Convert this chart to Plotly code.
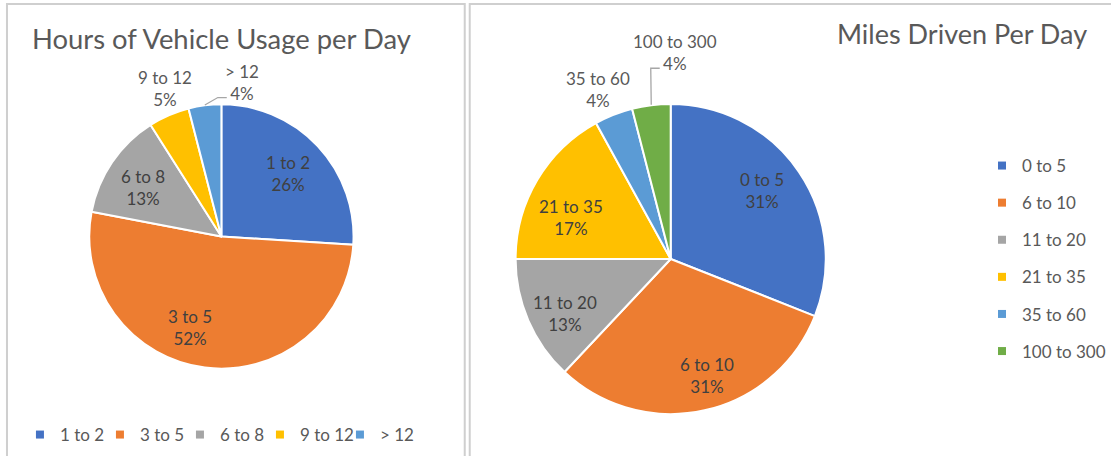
import math
import plotly.graph_objects as go

hours_labels = ["1 to 2", "3 to 5", "6 to 8", "9 to 12", "> 12"]
hours_values = [26, 52, 13, 5, 4]
hours_colors = ["#4472C4", "#ED7D31", "#A5A5A5", "#FFC000", "#5B9BD5"]

miles_labels = ["0 to 5", "6 to 10", "11 to 20", "21 to 35", "35 to 60", "100 to 300"]
miles_values = [31, 31, 13, 17, 4, 4]
miles_colors = ["#4472C4", "#ED7D31", "#A5A5A5", "#FFC000", "#5B9BD5", "#70AD47"]

W, H = 1111, 456
FONT = "Lato, Carlito, Calibri, sans-serif"
TXT_IN = "#404040"
TXT_OUT = "#595959"
LBL_SIZE = 17

PIES = [
    dict(labels=hours_labels, values=hours_values, colors=hours_colors,
         cx=222, cy=236.5, r=132.5, inside_f=0.69, legend="legend",
         nudge={1: (-20, 0), 2: (-3, 2)},
         outside={3: (-4, -26, False), 4: (37, -23, True)}),
    dict(labels=miles_labels, values=miles_values, colors=miles_colors,
         cx=672.5, cy=259, r=155.5, inside_f=0.74, legend="legend2",
         nudge={0: (-4, -4), 1: (11, 4), 2: (0, 9), 3: (-1, 17)},
         outside={4: (-16, -25, False), 5: (23.5, -52, True)}),
]


def px2paper(x, y):
    return x / W, 1 - y / H


fig = go.Figure()
annotations = []
shapes = []

for p in PIES:
    cx, cy, r = p["cx"], p["cy"], p["r"]
    x0, y1 = px2paper(cx - r, cy - r)
    x1, y0 = px2paper(cx + r, cy + r)
    fig.add_trace(go.Pie(
        labels=p["labels"], values=p["values"],
        marker=dict(colors=p["colors"], line=dict(color="white", width=2)),
        sort=False, direction="clockwise", rotation=0,
        textinfo="none", showlegend=False,
        domain=dict(x=[x0, x1], y=[y0, y1]),
        hoverinfo="label+percent",
    ))
    for i, (lab, col) in enumerate(zip(p["labels"], p["colors"])):
        fig.add_trace(go.Scatter(
            x=[None], y=[None], mode="markers", name=lab,
            marker=dict(symbol="square", size=8, color=col),
            legend=p["legend"], legendgroup=f"{p['legend']}_{i}",
            showlegend=True, hoverinfo="skip",
        ))
    total = sum(p["values"])
    cum = 0
    for i, (lab, v) in enumerate(zip(p["labels"], p["values"])):
        th = 2 * math.pi * (cum + v / 2) / total
        cum += v
        pct = round(100 * v / total)
        txt = f"{lab}<br>{pct}%"
        sx, sy = math.sin(th), -math.cos(th)
        if i in p["outside"]:
            dx, dy, leader = p["outside"][i]
            ax, ay = cx + r * sx, cy + r * sy
            lx, ly = ax + dx, ay + dy
            color = TXT_OUT
            if leader:
                ex, ey = lx - 15, ly + 15.5
                bx, by = ex - 9, ey
                pts = [px2paper(ax, ay), px2paper(bx, by), px2paper(ex, ey)]
                path = "M {} {} L {} {} L {} {}".format(*[c for pt in pts for c in pt])
                shapes.append(dict(type="path", xref="paper", yref="paper", path=path,
                                   line=dict(color="#A6A6A6", width=1.3)))
        else:
            f = p["inside_f"]
            ndx, ndy = p["nudge"].get(i, (0, 0))
            lx, ly = cx + f * r * sx + ndx, cy + f * r * sy + ndy
            color = TXT_IN
        X, Y = px2paper(lx, ly)
        annotations.append(dict(text=txt, x=X, y=Y, xref="paper", yref="paper",
                                xanchor="center", yanchor="middle", showarrow=False,
                                align="center",
                                font=dict(family=FONT, size=LBL_SIZE, color=color)))

# panel borders
shapes.append(dict(type="rect", xref="paper", yref="paper",
                   x0=7 / W, x1=466 / W, y0=-0.05, y1=1 - 4 / H,
                   line=dict(color="#CFCFCF", width=2), layer="above"))
shapes.append(dict(type="rect", xref="paper", yref="paper",
                   x0=471 / W, x1=1.05, y0=-0.05, y1=1 - 4 / H,
                   line=dict(color="#CFCFCF", width=2), layer="above"))

annotations.append(dict(text="Hours of Vehicle Usage per Day", xref="paper", yref="paper",
                        x=222.5 / W, y=1 - 38 / H, xanchor="center", yanchor="middle",
                        showarrow=False, font=dict(family=FONT, size=27.4, color="#595959")))
annotations.append(dict(text="Miles Driven Per Day", xref="paper", yref="paper",
                        x=1092 / W, y=1 - 33 / H, xanchor="right", yanchor="middle",
                        showarrow=False, font=dict(family=FONT, size=27, color="#595959")))

fig.update_layout(
    width=W, height=H, autosize=False,
    margin=dict(l=0, r=0, t=0, b=0),
    paper_bgcolor="white", plot_bgcolor="rgba(0,0,0,0)",
    font=dict(family=FONT, color="#595959"),
    xaxis=dict(visible=False), yaxis=dict(visible=False),
    annotations=annotations, shapes=shapes,
    legend=dict(orientation="h", x=20 / W, y=1 - 435 / H, xanchor="left", yanchor="middle",
                font=dict(family=FONT, size=LBL_SIZE, color="#595959"),
                traceorder="normal",
                entrywidth=35, entrywidthmode="pixels", bgcolor="rgba(0,0,0,0)"),
    legend2=dict(orientation="v", x=985 / W, y=1 - 258.5 / H, xanchor="left", yanchor="middle",
                 font=dict(family=FONT, size=LBL_SIZE, color="#595959"),
                 traceorder="grouped", tracegroupgap=12, bgcolor="rgba(0,0,0,0)"),
    showlegend=True,
)

POST = (
    "document.documentElement.style.overflow='hidden';"
    "document.body.style.margin='0px';"
    "document.body.style.overflow='hidden';"
    "var gd=document.getElementById('{plot_id}');"
    "Plotly.relayout(gd,{width:%d,height:%d});" % (W, H)
)

fig.write_html("out.html", config={"displayModeBar": False, "responsive": False},
               post_script=POST)
